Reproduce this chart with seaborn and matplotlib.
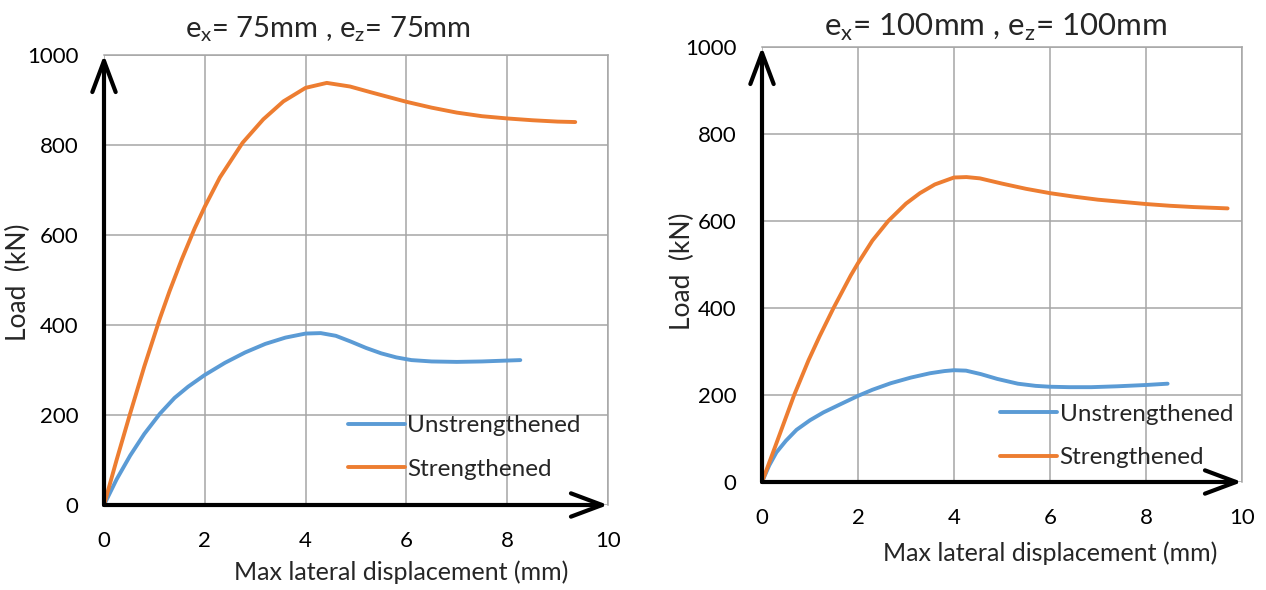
import matplotlib
matplotlib.use("Agg")
import matplotlib.pyplot as plt
import seaborn as sns
import pandas as pd

# ---- data ----
series_names = ["Unstrengthened", "Strengthened"]

# e = 75 mm
l_un_x = [0, 0.25, 0.52, 0.8, 1.11, 1.4, 1.67, 2.0, 2.4, 2.8, 3.2, 3.6, 4.0, 4.3, 4.6, 4.9, 5.2, 5.5, 5.8, 6.1, 6.5, 7.0, 7.5, 8.0, 8.26]
l_un_y = [0, 57, 110, 158, 203, 238, 263, 289, 316, 339, 358, 372, 381, 382, 376, 363, 349, 337, 328, 322, 319, 318, 319, 321, 322]
l_st_x = [0, 0.25, 0.51, 0.8, 1.11, 1.3, 1.54, 1.8, 2.0, 2.3, 2.75, 3.16, 3.56, 4.0, 4.42, 4.88, 5.3, 5.7, 6.0, 6.5, 7.0, 7.5, 8.0, 8.5, 9.0, 9.35]
l_st_y = [0, 100, 200, 308, 415, 475, 545, 615, 663, 728, 805, 857, 897, 927, 938, 930, 917, 905, 896, 883, 872, 864, 859, 855, 852, 851]

# e = 100 mm
r_un_x = [0, 0.15, 0.3, 0.5, 0.72, 1.0, 1.28, 1.6, 2.0, 2.3, 2.68, 3.1, 3.5, 3.8, 4.0, 4.25, 4.56, 4.9, 5.33, 5.7, 6.0, 6.4, 6.86, 7.4, 8.0, 8.45]
r_un_y = [0, 38, 68, 95, 120, 142, 160, 177, 198, 212, 227, 240, 250, 255, 257, 256, 248, 237, 226, 221, 219, 218, 218, 220, 223, 226]
r_st_x = [0, 0.27, 0.67, 0.97, 1.2, 1.49, 1.85, 2.0, 2.3, 2.63, 3.0, 3.29, 3.6, 4.0, 4.26, 4.54, 5.0, 5.5, 6.0, 6.5, 7.0, 7.5, 8.0, 8.5, 9.0, 9.7]
r_st_y = [0, 80, 200, 280, 335, 400, 475, 503, 555, 600, 640, 664, 684, 700, 701, 698, 686, 674, 664, 656, 649, 644, 639, 635, 632, 629]

titles = [r"e$_{\mathregular{x}}$= 75mm , e$_{\mathregular{z}}$= 75mm",
          r"e$_{\mathregular{x}}$= 100mm , e$_{\mathregular{z}}$= 100mm"]
x_label = "Max lateral displacement (mm)"
y_label = "Load  (kN)"
x_ticks = [0, 2, 4, 6, 8, 10]
y_ticks = [0, 200, 400, 600, 800, 1000]

colors = {"Unstrengthened": "#5B9BD5", "Strengthened": "#ED7D31"}

sns.set_style("white")
plt.rcParams["font.family"] = ["Lato", "DejaVu Sans"]
plt.rcParams["mathtext.fontset"] = "custom"
plt.rcParams["mathtext.rm"] = "Lato"

fig = plt.figure(figsize=(12.66, 5.9), dpi=100)
W, H = 1266, 590

def make_df(ux, uy, sx, sy):
    rows = []
    for x, y in zip(ux, uy):
        rows.append({"x": x, "y": y, "s": series_names[0]})
    for x, y in zip(sx, sy):
        rows.append({"x": x, "y": y, "s": series_names[1]})
    return pd.DataFrame(rows)

panels = [
    dict(df=make_df(l_un_x, l_un_y, l_st_x, l_st_y), px=(104, 608), py=(505, 55),
         title=titles[0], tfs=21, tx=0.444, tpad=12.5, leg=(0.484, 0.056),
         xlc=(0.589, -0.124), ylc=(-0.145, 0.496)),
    dict(df=make_df(r_un_x, r_un_y, r_st_x, r_st_y), px=(762, 1242), py=(482, 47),
         title=titles[1], tfs=22.5, tx=0.4875, tpad=8, leg=(0.496, 0.032),
         xlc=(0.6, -0.136), ylc=(-0.14, 0.485)),
]

for p in panels:
    x0, x1 = p["px"]
    y0, y1 = p["py"]
    ax = fig.add_axes([x0 / W, (H - y0) / H, (x1 - x0) / W, (y0 - y1) / H])
    sns.lineplot(data=p["df"], x="x", y="y", hue="s", palette=colors, sort=False,
                 estimator=None, linewidth=2.8, ax=ax)
    ax.set_xlim(0, 10)
    ax.set_ylim(0, 1000)
    ax.set_xticks(x_ticks)
    ax.set_yticks(y_ticks)
    ax.grid(True, color="#A6A6A6", linewidth=1.1)
    ax.set_axisbelow(True)
    for sp in ["top", "right"]:
        ax.spines[sp].set_visible(True)
        ax.spines[sp].set_color("#A6A6A6")
        ax.spines[sp].set_linewidth(1.1)
    for sp in ["left", "bottom"]:
        ax.spines[sp].set_visible(False)
    ax.tick_params(axis="both", direction="out", length=5.5, width=2.5, color="black",
                   labelsize=16, labelcolor="black")
    ax.tick_params(axis="y", pad=13)
    ax.tick_params(axis="x", pad=13)
    ax.set_xlabel(x_label, fontsize=18)
    ax.set_ylabel(y_label, fontsize=19)
    ax.xaxis.set_label_coords(*p["xlc"])
    ax.yaxis.set_label_coords(*p["ylc"])
    ax.set_title(p["title"], fontsize=p["tfs"], x=p["tx"], pad=p["tpad"])
    # axis arrows
    arrow_kw = dict(arrowstyle="->,head_length=1.6,head_width=0.6", lw=3.0,
                    color="black", mutation_scale=14, shrinkA=0, shrinkB=0)
    ax.annotate("", xy=(10, 0), xytext=(0, 0), xycoords="data",
                arrowprops=arrow_kw, annotation_clip=False)
    ax.annotate("", xy=(0, 1000), xytext=(0, 0), xycoords="data",
                arrowprops=arrow_kw, annotation_clip=False)
    leg = ax.legend(loc="lower left", bbox_to_anchor=p["leg"], frameon=False,
                    fontsize=17.5, handlelength=2.35, handletextpad=0.1,
                    labelspacing=0.92, borderaxespad=0, borderpad=0)
    for line in leg.get_lines():
        line.set_linewidth(2.8)

fig.savefig("out.png", dpi=100)
